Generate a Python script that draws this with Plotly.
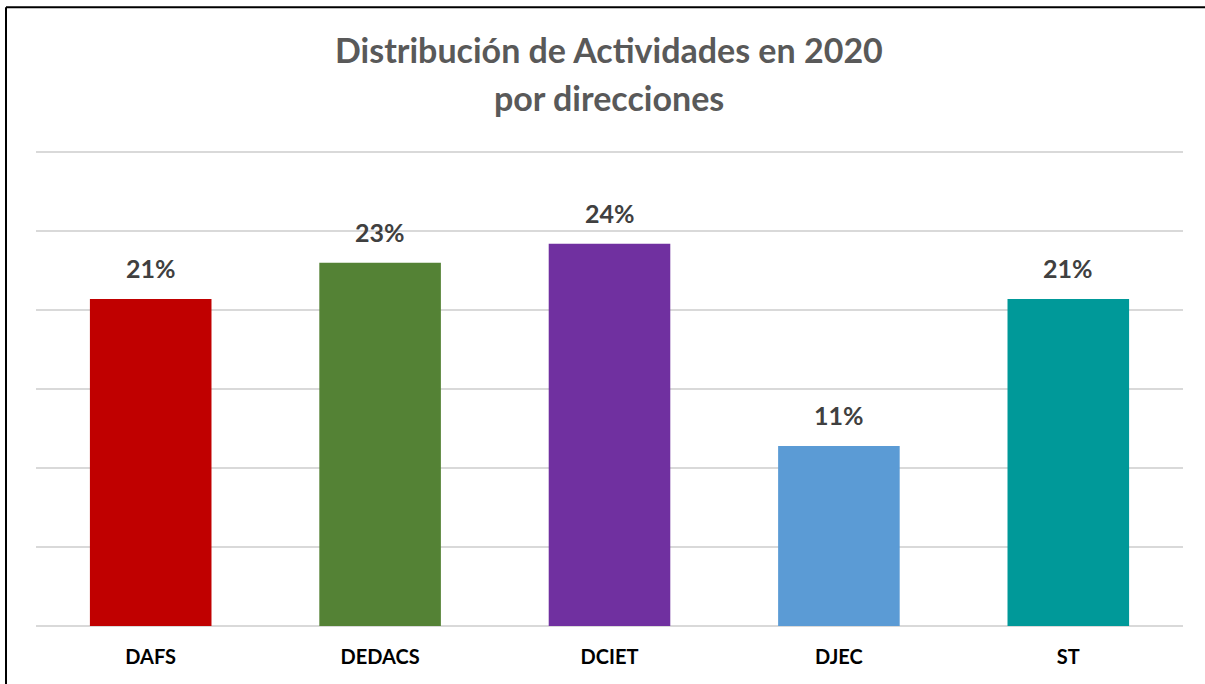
import plotly.graph_objects as go

categories = ["DAFS", "DEDACS", "DCIET", "DJEC", "ST"]
shares = [0.207, 0.230, 0.242, 0.114, 0.207]
bar_colors = ["#C00000", "#548235", "#7030A0", "#5B9BD5", "#009999"]
title_lines = ["Distribución de Actividades en 2020", "por direcciones"]

W, H = 1205, 684
y_top = 0.302
plot_left, plot_right, plot_bottom = 36, 1183, 626
plot_top = plot_bottom - (626 - 152) * y_top / 0.30
ml = plot_left
mr = W - plot_right
mt = plot_top
mb = H - plot_bottom
pw, ph = W - ml - mr, H - mt - mb

def px_x(x):
    return (x - ml) / pw

def px_y(y):
    return (H - mb - y) / ph

fig = go.Figure(go.Bar(
    x=categories, y=shares,
    marker=dict(color=bar_colors, line=dict(width=0)),
    hoverinfo="x+y",
))

for cat, val in zip(categories, shares):
    fig.add_annotation(x=cat, y=val, xref="x", yref="y",
                       text="<b>%d%%</b>" % round(val * 100),
                       showarrow=False, yanchor="bottom", yshift=14,
                       font=dict(family="Lato", size=25, color="#404040"))

fig.update_layout(
    width=W, height=H,
    margin=dict(l=ml, r=mr, t=mt, b=mb),
    paper_bgcolor="white", plot_bgcolor="white",
    bargap=0.47, showlegend=False,
    xaxis=dict(showgrid=False, showline=False, ticks="",
               tickfont=dict(family="Lato", size=20, color="#000000"),
               tickprefix="<b>", ticksuffix="</b>", ticklabelstandoff=17),
    yaxis=dict(range=[0, y_top], dtick=0.05, showticklabels=False,
               showgrid=True, gridcolor="#D9D9D9", gridwidth=1.5,
               zeroline=True, zerolinecolor="#D9D9D9", zerolinewidth=1.5,
               showline=False),
)

for line, ypx in zip(title_lines, [49, 97]):
    fig.add_annotation(text="<b>" + line + "</b>", xref="paper", yref="paper",
                       x=px_x(609), y=px_y(ypx), showarrow=False,
                       xanchor="center", yanchor="middle",
                       font=dict(family="Lato", size=34, color="#595959"))

# outer border (left and top)
fig.add_shape(type="line", xref="paper", yref="paper",
              x0=px_x(6), x1=px_x(6), y0=px_y(700), y1=px_y(7),
              line=dict(color="#000000", width=2))
fig.add_shape(type="line", xref="paper", yref="paper",
              x0=px_x(6), x1=px_x(1220), y0=px_y(7), y1=px_y(7),
              line=dict(color="#000000", width=2))

fig.write_html("out.html", config={"displayModeBar": False},
               post_script="document.body.style.margin='0px';")
